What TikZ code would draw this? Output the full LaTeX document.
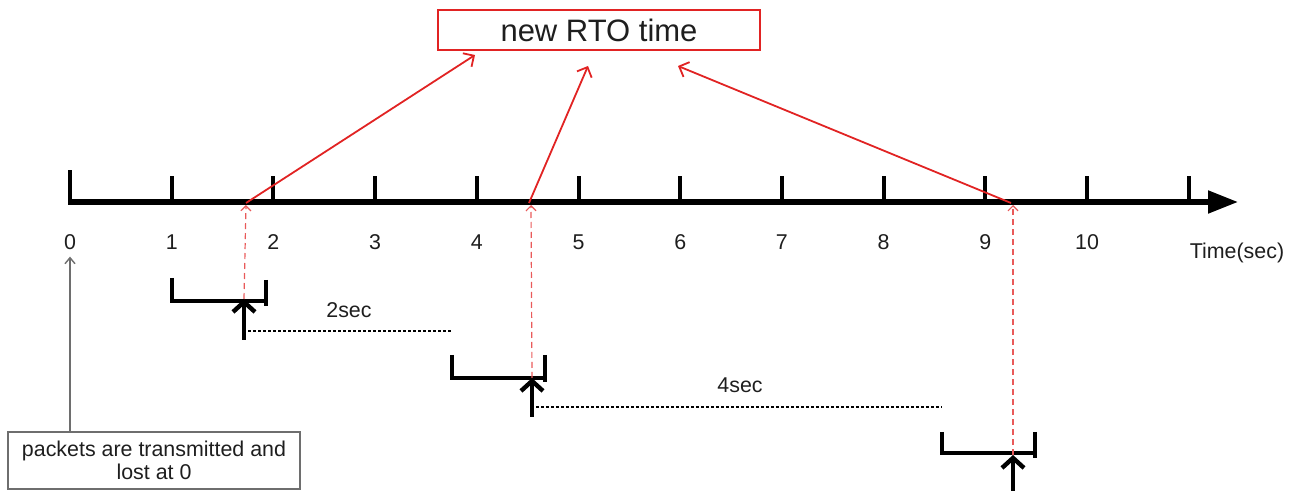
\documentclass[tikz,border=0pt]{standalone}
\usepackage{fontspec}
\setmainfont{Liberation Sans}
\usepackage{tikz}
\usetikzlibrary{positioning,calc,arrows.meta}

\definecolor{rtored}{RGB}{225,35,35}
\definecolor{notegray}{RGB}{110,110,110}
\definecolor{ink}{RGB}{30,30,30}

\begin{document}
\begin{tikzpicture}[x=0.5pt,y=-0.5pt,
    every node/.style={text=ink,font=\fontsize{10.7}{11.5}\selectfont},
    axis/.style={line width=2.6pt,-{Triangle[length=15pt,width=11pt]}},
    tick/.style={line width=2pt},
    bracket/.style={line width=2.2pt},
    ack/.style={line width=2.2pt,-{Straight Barb[length=5pt,width=11pt]}},
    rto/.style={rtored,line width=0.9pt,-{Straight Barb[length=4pt,width=8pt]}},
    echo/.style={rtored!75,line width=0.6pt,dash pattern=on 3pt off 2pt,-{Straight Barb[length=2.5pt,width=5pt]}},
    wait/.style={line width=0.7pt,dash pattern=on 1.5pt off 1pt},
    note/.style={notegray,line width=0.7pt,-{Straight Barb[length=3pt,width=5pt]}}
]
    \useasboundingbox (0,0) rectangle (1292,491);

    % time axis
    \draw[axis] (68,202) -- (1238,202);
    \draw[tick] (70,202) -- (70,170); % origin
    \foreach \i in {1,...,11}
        \draw[tick] ({70+101.7*\i},202) -- ({70+101.7*\i},176);
    \foreach \i in {0,...,10}
        \node (n\i) at ({70+101.7*\i},242) {\i};
    \node (time) at (1237,253) {Time(sec)};

    % timeout label
    \node[draw=rtored,line width=1pt,minimum width=161pt,minimum height=20pt,
          font=\fontsize{15.5}{17}\selectfont] (newrto) at (599,30) {new RTO time};

    % points where the timers fire
    \coordinate (t1) at (246,203);
    \coordinate (t2) at (529,203);
    \coordinate (t3) at (1011,203);
    \coordinate (e1) at (475,55);
    \coordinate (e2) at (588,66);
    \coordinate (e3) at (678,66);
    \draw[rto] (t1) -- (e1);
    \draw[rto] (t2) -- (e2);
    \draw[rto] (t3) -- (e3);

    % first retransmission
    \draw[bracket] (172,278) -- (172,301) -- (266,301);
    \draw[bracket] (266,280) -- (266,306);
    \coordinate (a1) at (244,340);
    \coordinate (s1) at (244,299);
    \draw[ack] (a1) -- (s1);
    \draw[echo] (s1) -- (246,205);
    \draw[wait] (248,331) -- (453,331);
    \node (gap1) at (349,310) {2sec};

    % second retransmission
    \draw[bracket] (452,355) -- (452,378) -- (545,378);
    \draw[bracket] (545,355) -- (545,382);
    \coordinate (a2) at (532,417);
    \coordinate (s2) at (532,378);
    \draw[ack] (a2) -- (s2);
    \draw[echo] (s2) -- (531,205);
    \draw[wait] (536,407) -- (942,407);
    \node (gap2) at (740,385) {4sec};

    % third retransmission
    \draw[bracket] (942,432) -- (942,453) -- (1035,453);
    \draw[bracket] (1035,432) -- (1035,458);
    \coordinate (a3) at (1013,492);
    \coordinate (s3) at (1013,455);
    \draw[ack] (a3) -- (s3);
    \draw[echo] (s3) -- (1013,205);

    % initial loss
    \node[draw=notegray,line width=0.8pt,align=center,minimum width=146pt,
          minimum height=28.5pt,inner sep=1pt] (pkt) at (154,460.5)
          {packets are transmitted and\\lost at 0};
    \draw[note] (pkt.north -| n0.south) -- (n0.south);
\end{tikzpicture}
\end{document}
